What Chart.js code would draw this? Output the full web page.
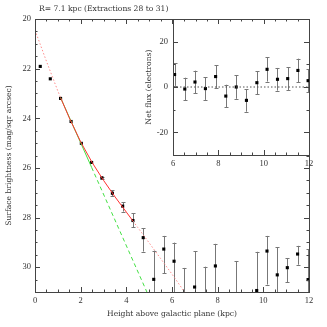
<!DOCTYPE html>
<html><head><meta charset="utf-8">
<script src="https://cdn.jsdelivr.net/npm/chart.js@4"></script>
<style>
html,body{margin:0;padding:0;background:#fff;}
#wrap{position:relative;width:327px;height:327px;overflow:hidden;background:#fff;}
#main{position:absolute;left:0;top:0;}
#inset{position:absolute;left:140px;top:0;}
</style></head><body>
<div id="wrap"><canvas id="main" width="327" height="327"></canvas><canvas id="inset" width="187" height="175"></canvas></div>
<script>
// ---- text ----
const titleText = 'R= 7.1 kpc (Extractions 28 to 31)';
const xTitle = 'Height above galactic plane (kpc)';
const yTitle = 'Surface brightness (mag/sqr arcsec)';
const insetYTitle = 'Net flux (electrons)';

// ---- tick labels ----
const mainXTicks = [0, 2, 4, 6, 8, 10, 12];
const mainYTicks = [20, 22, 24, 26, 28, 30];
const insetXTicks = [6, 8, 10, 12];
const insetYTicks = [-20, 0, 20];

// ---- surface brightness profile (main panel) ----
const heights    = [0.23,0.67,1.12,1.58,2.03,2.48,2.93,3.39,3.84,4.29,4.74,5.20,5.64,6.09,6.53,6.99,7.46,7.90,8.35,8.82,9.27,9.71,10.16,10.61,11.05,11.50,11.96];
const magnitudes = [21.91,22.41,23.20,24.13,25.01,25.78,26.40,27.02,27.54,28.12,28.81,30.49,29.27,29.76,null,30.80,null,29.95,null,null,null,30.94,29.35,30.31,30.02,29.47,30.50];
// bright (upper) and faint (lower) ends of the error bars, in mag; 33 = beyond the plot
const magBright  = [null,null,null,null,null,null,26.35,26.91,27.38,27.83,28.43,29.33,28.74,29.01,30.03,29.36,29.98,29.06,null,29.75,null,29.38,28.74,29.20,29.63,29.14,29.28];
const magFaint   = [null,null,null,null,null,null,26.45,27.13,27.76,28.39,29.37,33,30.25,33,33,33,33,33,null,33,null,33,30.70,33,30.60,29.90,33];

// two-component fit (red)
const fitX = [0,0.5,1.0,1.12,1.5,2.0,2.5,3.0,3.5,4.0,4.29,4.5,5.0,5.5,6.0,6.55];
const fitY = [20.45,21.70,22.90,23.17,23.98,24.95,25.78,26.50,27.16,27.78,28.14,28.40,29.02,29.65,30.28,31.0];
// single exponential (green)
const thinX = [1.12, 2.48, 4.90];
const thinY = [23.17, 25.98, 31.0];

// ---- net flux (inset) ----
const fluxHeights = [6.07,6.52,6.97,7.43,7.88,8.33,8.79,9.24,9.70,10.15,10.61,11.06,11.51,11.96];
const netFlux     = [5.5,-0.9,2.2,-0.7,4.6,-4.0,0.0,-5.9,1.9,7.8,3.4,3.7,7.3,2.8];
const fluxErr     = [5.0,5.0,5.0,5.0,5.0,5.0,5.2,5.0,5.0,5.4,5.0,5.0,5.2,5.0];
const zeroX = [6, 12];
const zeroY = [0, 0];

const FONT = 'Liberation Serif';
const TFONT = 'DejaVu Serif';
const TSIZE = 7.6;
const TXT = '#333';
const AX = '#444';
const ERR = '#777';

function tickPlugin(xStepMinor, xStepMajor, yStepMinor, yStepMajor, fillWhite) {
  return {
    id: 'frame',
    beforeDraw(chart) {
      if (!fillWhite) return;
      const a = chart.chartArea, c = chart.ctx;
      c.save(); c.fillStyle = '#fff';
      c.fillRect(a.left, a.top, a.right - a.left, a.bottom - a.top);
      c.restore();
    },
    afterDraw(chart) {
      const a = chart.chartArea, c = chart.ctx;
      const xs = chart.scales.x, ys = chart.scales.y;
      c.save();
      c.strokeStyle = AX; c.lineWidth = 1;
      c.strokeRect(Math.round(a.left) + 0.5, Math.round(a.top) + 0.5, Math.round(a.right - a.left), Math.round(a.bottom - a.top));
      c.beginPath();
      const eps = 1e-6;
      for (let v = xs.min; v <= xs.max + eps; v += xStepMinor) {
        const major = Math.abs(v / xStepMajor - Math.round(v / xStepMajor)) < 1e-6;
        const L = major ? 5 : 2.5;
        const px = Math.round(xs.getPixelForValue(v)) + 0.5;
        c.moveTo(px, a.bottom); c.lineTo(px, a.bottom - L);
        c.moveTo(px, a.top); c.lineTo(px, a.top + L);
      }
      const lo = Math.min(ys.min, ys.max), hi = Math.max(ys.min, ys.max);
      for (let v = lo; v <= hi + eps; v += yStepMinor) {
        const major = Math.abs(v / yStepMajor - Math.round(v / yStepMajor)) < 1e-6;
        const L = major ? 5 : 2.5;
        const py = Math.round(ys.getPixelForValue(v)) + 0.5;
        c.moveTo(a.left, py); c.lineTo(a.left + L, py);
        c.moveTo(a.right, py); c.lineTo(a.right - L, py);
      }
      c.stroke();
      c.restore();
    }
  };
}

function errPlugin(getBars) {
  return {
    id: 'errbars',
    beforeDatasetsDraw(chart) {
      const a = chart.chartArea, c = chart.ctx;
      const xs = chart.scales.x, ys = chart.scales.y;
      c.save();
      c.beginPath(); c.rect(a.left, a.top, a.right - a.left, a.bottom - a.top); c.clip();
      c.strokeStyle = ERR; c.lineWidth = 1;
      c.beginPath();
      for (const b of getBars()) {
        const px = Math.round(xs.getPixelForValue(b.x)) + 0.5;
        const y1 = ys.getPixelForValue(b.y1), y2 = ys.getPixelForValue(b.y2);
        c.moveTo(px, y1); c.lineTo(px, y2);
        c.moveTo(px - 2, Math.round(y1) + 0.5); c.lineTo(px + 2, Math.round(y1) + 0.5);
        c.moveTo(px - 2, Math.round(y2) + 0.5); c.lineTo(px + 2, Math.round(y2) + 0.5);
      }
      c.stroke();
      c.restore();
    }
  };
}

const titlePlugin = {
  id: 'toptitle',
  afterDraw(chart) {
    const c = chart.ctx;
    c.save();
    c.font = TSIZE + 'px "' + TFONT + '"';
    c.fillStyle = TXT; c.textBaseline = 'middle'; c.textAlign = 'left';
    c.fillText(titleText, 39, 9);
    c.restore();
  }
};

const tickFont = { family: FONT, size: 8.5 };
const titleFont = { family: TFONT, size: TSIZE };

const pts = [];
heights.forEach((h, i) => { if (magnitudes[i] !== null) pts.push({ x: h, y: magnitudes[i] }); });

new Chart(document.getElementById('main'), {
  type: 'scatter',
  data: {
    datasets: [
      {
        type: 'line', data: fitX.map((x, i) => ({ x, y: fitY[i] })),
        borderColor: '#ff3030', borderWidth: 1, pointRadius: 0, fill: false,
        segment: {
          borderDash: c => (c.p0.parsed.x >= 1.119 && c.p1.parsed.x <= 4.291) ? undefined : [1.5, 2],
          borderColor: c => (c.p0.parsed.x >= 1.119 && c.p1.parsed.x <= 4.291) ? '#ff3030' : '#ff8c8c'
        }
      },
      {
        type: 'line', data: thinX.map((x, i) => ({ x, y: thinY[i] })),
        borderColor: '#44e044', borderWidth: 1, pointRadius: 0, fill: false,
        segment: { borderDash: c => (c.p0.parsed.x < 2.4) ? undefined : [4, 3] }
      },
      {
        data: pts, pointStyle: 'rect', pointRadius: 2.2, backgroundColor: '#000', borderColor: '#000', borderWidth: 0
      }
    ]
  },
  options: {
    responsive: false, animation: false, devicePixelRatio: 1,
    layout: { padding: { top: 19, right: 18, left: 0, bottom: 0 } },
    plugins: { legend: { display: false }, tooltip: { enabled: false }, title: { display: false } },
    scales: {
      x: {
        type: 'linear', min: 0, max: 12,
        grid: { display: false, drawTicks: false }, border: { display: false },
        afterBuildTicks: s => { s.ticks = mainXTicks.map(v => ({ value: v })); },
        ticks: { autoSkip: false, maxRotation: 0, padding: 4, font: tickFont, color: TXT },
        title: { display: true, text: xTitle, font: titleFont, color: TXT, padding: { top: 0, bottom: 8 } },
        afterFit: s => { s.height = 35; }
      },
      y: {
        type: 'linear', min: 20, max: 31, reverse: true,
        grid: { display: false, drawTicks: false }, border: { display: false },
        afterBuildTicks: s => { s.ticks = mainYTicks.map(v => ({ value: v })); },
        ticks: { autoSkip: false, padding: 4, font: tickFont, color: TXT },
        title: { display: true, text: yTitle, font: titleFont, color: TXT, padding: { top: 4, bottom: 0 } },
        afterFit: s => { s.width = 35; }
      }
    }
  },
  plugins: [
    errPlugin(() => heights.map((h, i) => magBright[i] === null ? null : { x: h, y1: magBright[i], y2: magFaint[i] }).filter(b => b)),
    tickPlugin(0.5, 2, 0.5, 2, false),
    titlePlugin
  ]
});

new Chart(document.getElementById('inset'), {
  type: 'scatter',
  data: {
    datasets: [
      {
        type: 'line', data: zeroX.map((x, i) => ({ x, y: zeroY[i] })),
        borderColor: '#555', borderWidth: 1, borderDash: [1.5, 2], pointRadius: 0, fill: false
      },
      {
        data: fluxHeights.map((x, i) => ({ x, y: netFlux[i] })),
        pointStyle: 'rect', pointRadius: 2.2, backgroundColor: '#000', borderColor: '#000', borderWidth: 0
      }
    ]
  },
  options: {
    responsive: false, animation: false, devicePixelRatio: 1,
    layout: { padding: { top: 19, right: 18, left: 0, bottom: 0 } },
    plugins: { legend: { display: false }, tooltip: { enabled: false } },
    scales: {
      x: {
        type: 'linear', min: 6, max: 12,
        grid: { display: false, drawTicks: false }, border: { display: false },
        afterBuildTicks: s => { s.ticks = insetXTicks.map(v => ({ value: v })); },
        ticks: { autoSkip: false, maxRotation: 0, padding: 4, font: tickFont, color: TXT },
        afterFit: s => { s.height = 20; }
      },
      y: {
        type: 'linear', min: -30, max: 30,
        grid: { display: false, drawTicks: false }, border: { display: false },
        afterBuildTicks: s => { s.ticks = insetYTicks.map(v => ({ value: v })); },
        ticks: { autoSkip: false, padding: 5, font: tickFont, color: TXT },
        title: { display: true, text: insetYTitle, font: titleFont, color: TXT, padding: { top: 4, bottom: 0 } },
        afterFit: s => { s.width = 33; }
      }
    }
  },
  plugins: [
    tickPlugin(0.5, 2, 10, 20, true),
    errPlugin(() => fluxHeights.map((x, i) => ({ x, y1: netFlux[i] + fluxErr[i], y2: netFlux[i] - fluxErr[i] })))
  ]
});
</script>
</body></html>
